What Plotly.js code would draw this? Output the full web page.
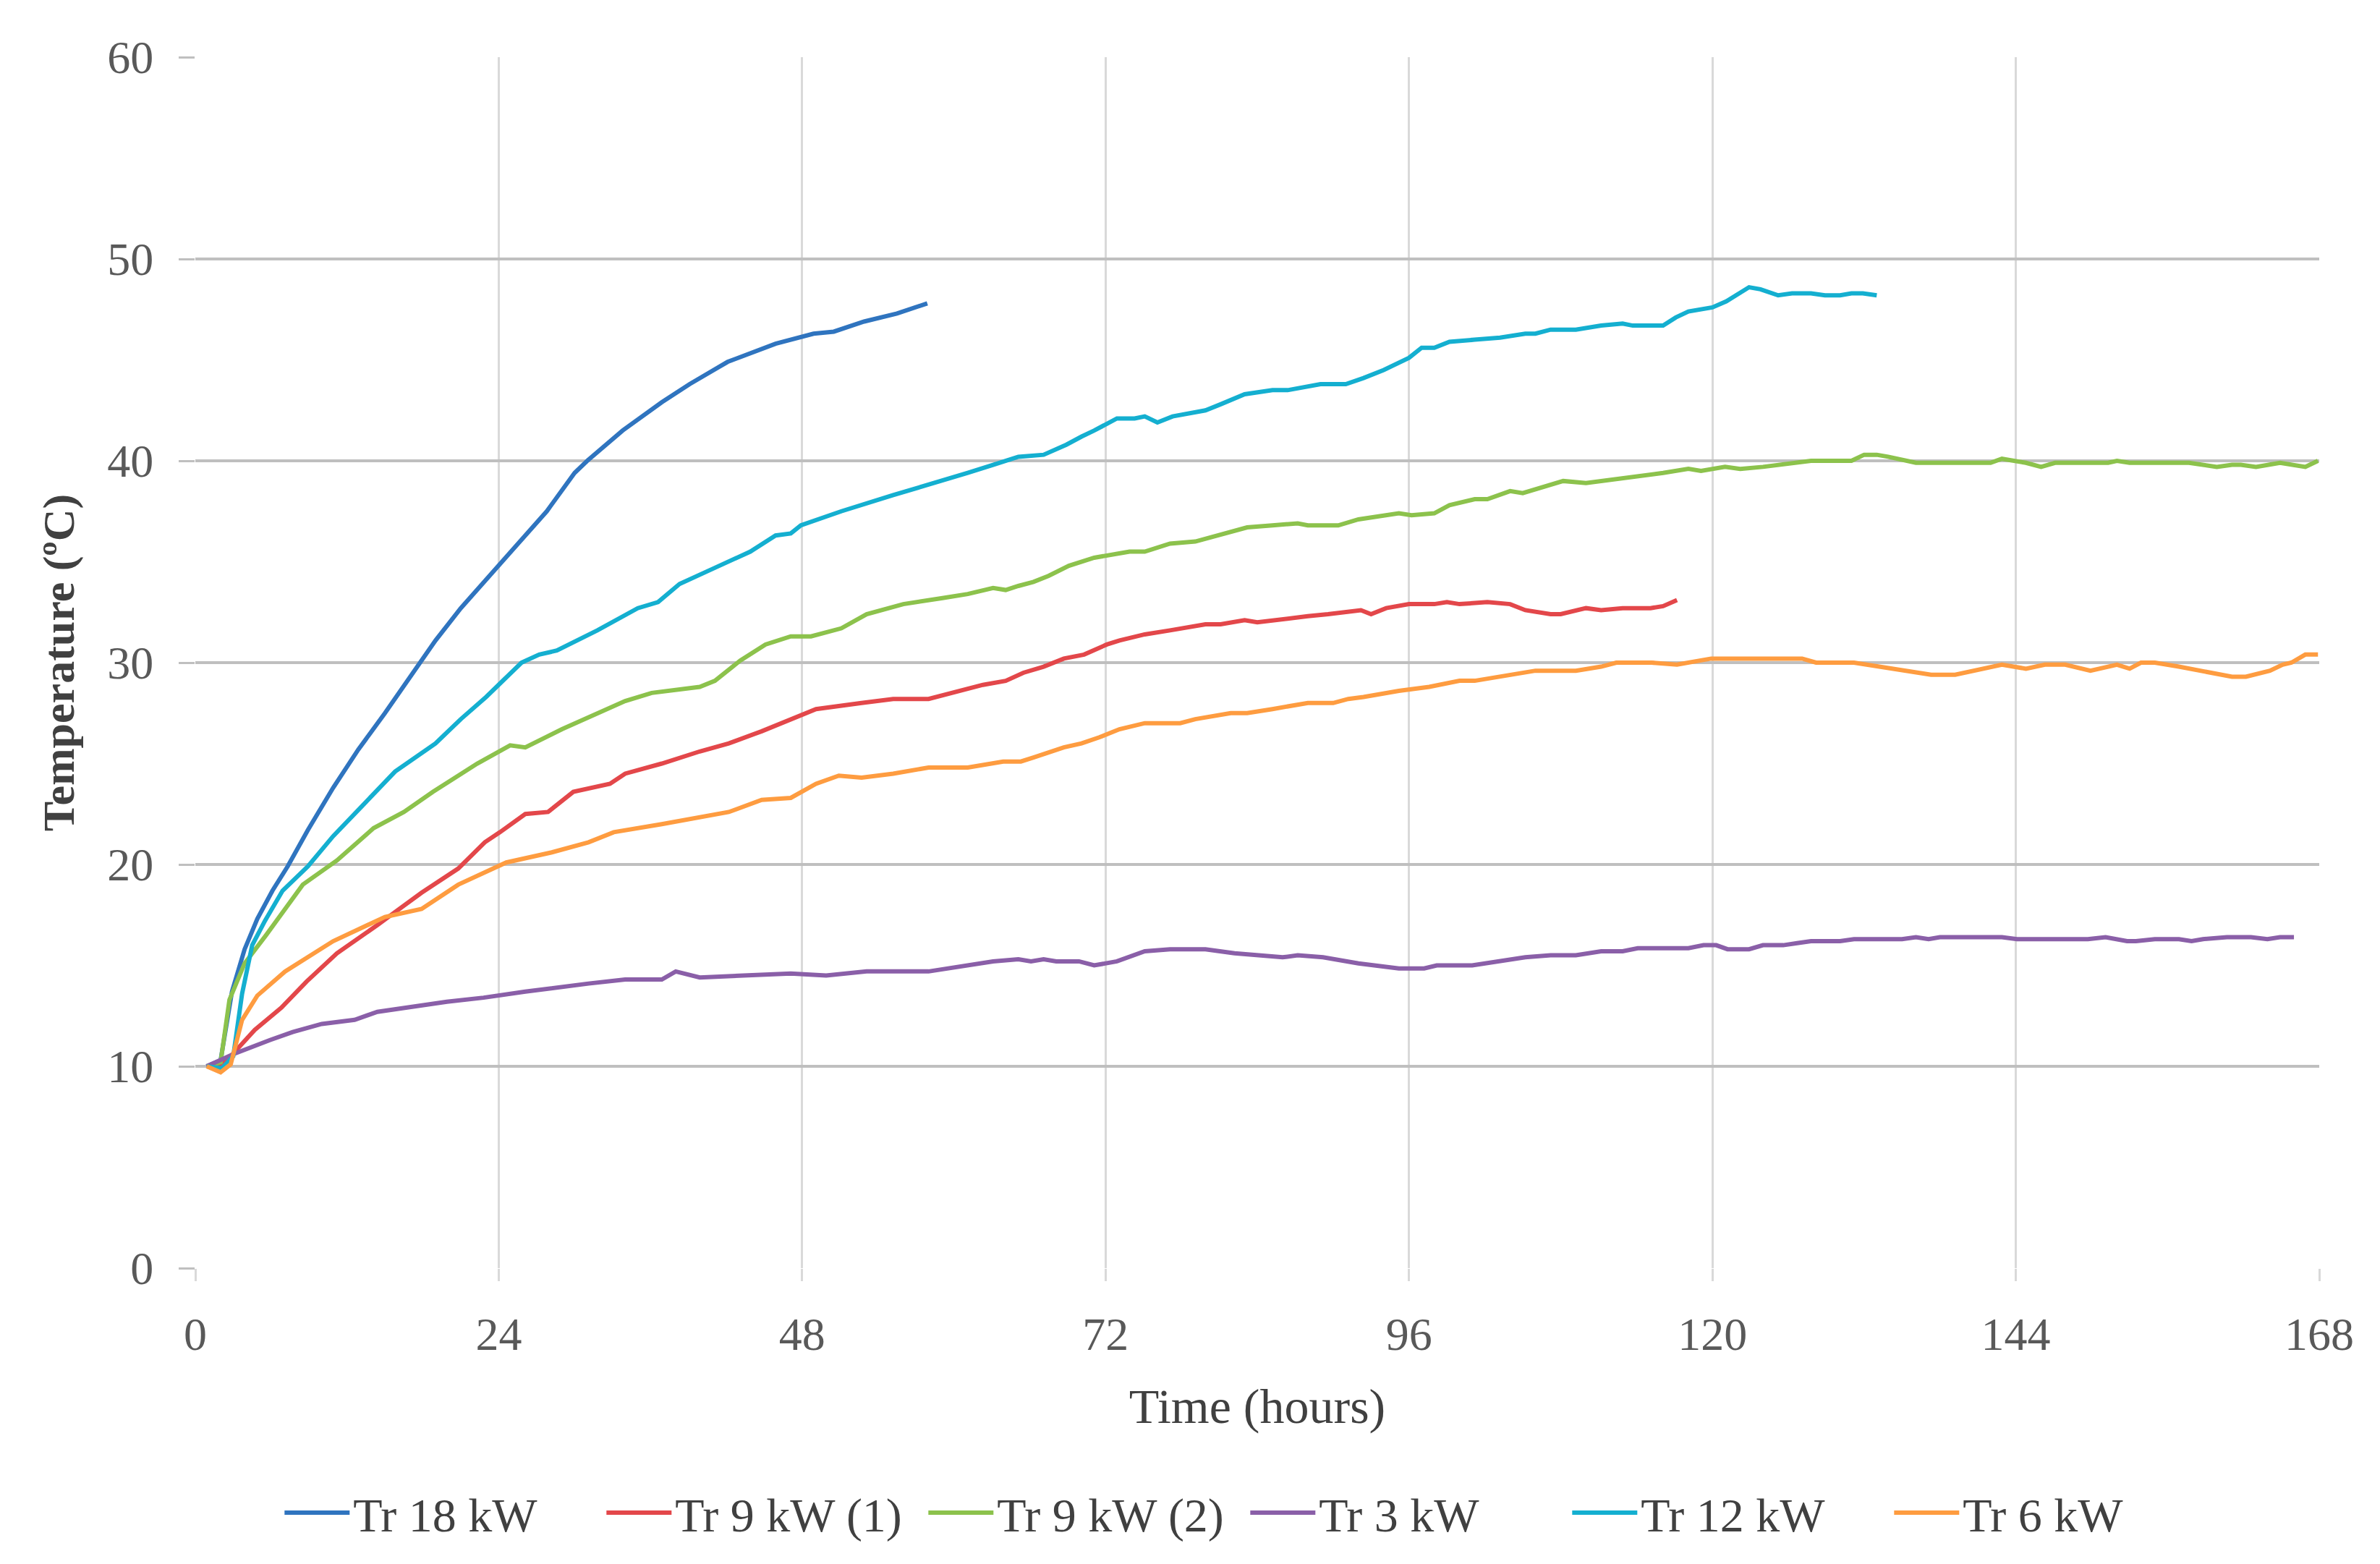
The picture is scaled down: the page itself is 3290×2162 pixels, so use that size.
<!DOCTYPE html>
<html>
<head>
<meta charset="utf-8">
<script src="https://cdn.plot.ly/plotly-3.0.1.min.js"></script>
<style>
  html, body { margin: 0; padding: 0; background: #fff; }
  #plot { width: 3290px; height: 2162px; }
</style>
</head>
<body>
<div id="plot"></div>
<script>
// series: time (h) and temperature (oC)
const seriesNames = ['Tr 18 kW', 'Tr 9 kW (1)', 'Tr 9 kW (2)', 'Tr 3 kW', 'Tr 12 kW', 'Tr 6 kW']

const tr18Hours = [0.9, 2.0, 2.9, 3.9, 4.9, 6.1, 7.3, 8.9, 10.9, 12.9, 15.0, 16.2, 17.8, 19.0, 21.0, 23.0, 25.0, 27.0, 27.8, 30.0,
  31.0, 33.8, 36.9, 39.1, 42.1, 45.9, 48.9, 50.5, 52.9, 55.5, 57.9]
const tr18Temp = [10.0, 10.3, 13.7, 15.8, 17.3, 18.7, 19.9, 21.7, 23.8, 25.7, 27.5, 28.6, 30.0, 31.1, 32.7, 34.1, 35.5, 36.9, 37.5, 39.4,
  40.0, 41.5, 42.9, 43.8, 44.9, 45.8, 46.3, 46.4, 46.9, 47.3, 47.8]

const tr9aHours = [0.9, 2.0, 2.8, 4.7, 6.8, 8.8, 11.2, 14.4, 17.9, 20.8, 22.9, 24.1, 26.1, 27.9, 29.9, 32.8, 34.0, 36.9, 39.9, 42.2,
  44.8, 47.1, 49.1, 52.7, 55.2, 58.0, 60.3, 62.3, 64.1, 65.5, 67.1, 68.7, 70.3, 72.1, 73.1, 75.1, 77.1, 79.9, 81.1, 83.0,
  84.0, 86.4, 88.0, 89.6, 91.2, 92.2, 93.0, 94.2, 96.0, 98.0, 99.0, 100.0, 102.2, 104.0, 105.2, 107.2, 108.0, 110.0, 111.2, 112.9,
  115.1, 116.1, 117.2]
const tr9aTemp = [10.0, 10.1, 10.5, 11.8, 12.9, 14.2, 15.6, 17.0, 18.6, 19.8, 21.1, 21.6, 22.5, 22.6, 23.6, 24.0, 24.5, 25.0, 25.6, 26.0,
  26.6, 27.2, 27.7, 28.0, 28.2, 28.2, 28.6, 28.9, 29.1, 29.5, 29.8, 30.2, 30.4, 30.9, 31.1, 31.4, 31.6, 31.9, 31.9, 32.1,
  32.0, 32.2, 32.3, 32.4, 32.5, 32.6, 32.4, 32.7, 32.9, 32.9, 33.0, 32.9, 33.0, 32.9, 32.6, 32.4, 32.4, 32.7, 32.6, 32.7,
  32.7, 32.8, 33.1]

const tr9bHours = [0.9, 2.0, 2.7, 3.9, 5.6, 8.5, 11.2, 14.1, 16.5, 18.8, 20.8, 22.3, 24.9, 26.1, 29.0, 31.1, 34.0, 36.1, 39.9, 41.1,
  43.1, 45.1, 47.1, 48.7, 51.1, 53.1, 56.0, 59.1, 61.1, 63.1, 64.1, 65.1, 66.3, 67.5, 69.1, 71.1, 73.9, 75.1, 77.1, 79.1,
  80.9, 83.2, 85.2, 87.2, 88.0, 90.4, 92.0, 95.2, 96.2, 98.0, 99.2, 101.2, 102.2, 104.0, 105.0, 107.2, 108.2, 110.0, 111.2, 112.9,
  116.1, 118.1, 119.1, 121.0, 122.2, 124.0, 126.3, 127.8, 131.0, 132.0, 133.0, 133.9, 136.1, 142.0, 142.9, 144.8, 146.0, 147.1, 151.3, 152.0,
  153.0, 157.7, 159.9, 161.1, 161.8, 163.0, 164.9, 166.9, 167.9]
const tr9bTemp = [10.0, 10.2, 13.3, 15.1, 16.5, 19.0, 20.2, 21.8, 22.6, 23.6, 24.4, 25.0, 25.9, 25.8, 26.7, 27.3, 28.1, 28.5, 28.8, 29.1,
  30.1, 30.9, 31.3, 31.3, 31.7, 32.4, 32.9, 33.2, 33.4, 33.7, 33.6, 33.8, 34.0, 34.3, 34.8, 35.2, 35.5, 35.5, 35.9, 36.0,
  36.3, 36.7, 36.8, 36.9, 36.8, 36.8, 37.1, 37.4, 37.3, 37.4, 37.8, 38.1, 38.1, 38.5, 38.4, 38.8, 39.0, 38.9, 39.0, 39.1,
  39.4, 39.6, 39.5, 39.7, 39.6, 39.7, 39.9, 40.0, 40.0, 40.3, 40.3, 40.2, 39.9, 39.9, 40.1, 39.9, 39.7, 39.9, 39.9, 40.0,
  39.9, 39.9, 39.7, 39.8, 39.8, 39.7, 39.9, 39.7, 40.0]

const tr3Hours = [0.9, 2.0, 3.0, 5.9, 7.7, 10.0, 12.6, 14.4, 19.9, 22.8, 26.1, 31.1, 34.0, 36.9, 38.0, 39.9, 43.1, 47.1, 49.9, 53.1,
  58.0, 61.1, 63.1, 65.1, 66.1, 67.1, 68.1, 69.9, 71.1, 72.9, 75.1, 77.1, 79.9, 82.2, 84.0, 86.0, 87.2, 89.2, 92.0, 93.2,
  95.2, 97.2, 98.2, 101.0, 103.2, 105.2, 107.2, 109.2, 111.2, 112.9, 114.1, 118.1, 119.3, 120.3, 121.2, 122.9, 124.0, 125.6, 126.7, 127.8,
  130.1, 131.2, 135.0, 136.1, 137.1, 138.0, 142.9, 144.1, 149.7, 151.1, 152.8, 153.5, 155.0, 156.9, 157.9, 158.8, 160.7, 162.6, 163.9, 164.9,
  166.0]
const tr3Temp = [10.0, 10.3, 10.6, 11.3, 11.7, 12.1, 12.3, 12.7, 13.2, 13.4, 13.7, 14.1, 14.3, 14.3, 14.7, 14.4, 14.5, 14.6, 14.5, 14.7,
  14.7, 15.0, 15.2, 15.3, 15.2, 15.3, 15.2, 15.2, 15.0, 15.2, 15.7, 15.8, 15.8, 15.6, 15.5, 15.4, 15.5, 15.4, 15.1, 15.0,
  14.85, 14.85, 15.0, 15.0, 15.2, 15.4, 15.5, 15.5, 15.7, 15.7, 15.85, 15.85, 16.0, 16.0, 15.8, 15.8, 16.0, 16.0, 16.1, 16.2,
  16.2, 16.3, 16.3, 16.4, 16.3, 16.4, 16.4, 16.3, 16.3, 16.4, 16.2, 16.2, 16.3, 16.3, 16.2, 16.3, 16.4, 16.4, 16.3, 16.4,
  16.4]

const tr12Hours = [0.9, 2.1, 3.0, 3.7, 4.5, 5.5, 6.9, 8.9, 10.9, 12.9, 15.8, 19.0, 21.0, 23.0, 25.8, 27.2, 28.6, 31.8, 35.0, 36.6,
  38.3, 41.1, 43.9, 45.9, 47.1, 47.9, 51.1, 55.2, 59.1, 61.1, 63.1, 65.1, 67.1, 68.9, 70.1, 71.1, 72.9, 74.3, 75.1, 76.1,
  77.3, 79.9, 81.1, 83.0, 85.2, 86.4, 89.0, 91.0, 92.4, 94.0, 96.0, 97.0, 98.0, 99.2, 101.2, 103.2, 105.2, 106.0, 107.2, 109.2,
  111.2, 112.9, 113.7, 116.1, 117.1, 118.1, 120.0, 121.1, 122.9, 123.8, 125.2, 126.3, 127.8, 128.9, 130.1, 131.0, 131.9, 133.0]
const tr12Temp = [10.0, 9.9, 10.5, 13.6, 16.0, 17.2, 18.7, 19.9, 21.4, 22.7, 24.6, 26.0, 27.2, 28.3, 30.0, 30.4, 30.6, 31.6, 32.7, 33.0,
  33.9, 34.7, 35.5, 36.3, 36.4, 36.8, 37.5, 38.3, 39.0, 39.4, 39.8, 40.2, 40.3, 40.8, 41.2, 41.5, 42.1, 42.1, 42.2, 41.9,
  42.2, 42.5, 42.8, 43.3, 43.5, 43.5, 43.8, 43.8, 44.1, 44.5, 45.1, 45.6, 45.6, 45.9, 46.0, 46.1, 46.3, 46.3, 46.5, 46.5,
  46.7, 46.8, 46.7, 46.7, 47.1, 47.4, 47.6, 47.9, 48.6, 48.5, 48.2, 48.3, 48.3, 48.2, 48.2, 48.3, 48.3, 48.2]

const tr6Hours = [0.9, 2.0, 2.8, 3.7, 4.9, 7.1, 10.9, 15.0, 17.9, 20.8, 24.6, 28.2, 31.1, 33.1, 36.9, 42.2, 44.8, 47.1, 49.1, 50.9,
  52.7, 55.2, 58.0, 61.1, 63.9, 65.3, 66.3, 68.7, 70.1, 71.5, 73.1, 75.1, 77.9, 79.1, 81.9, 83.2, 85.2, 88.0, 90.0, 91.2,
  92.4, 95.2, 97.6, 100.0, 101.2, 103.2, 106.0, 109.2, 111.2, 112.4, 115.2, 117.2, 119.9, 127.1, 128.2, 131.2, 133.1, 137.3, 139.2, 142.9,
  144.8, 146.3, 147.9, 149.9, 152.0, 153.0, 153.9, 155.0, 156.9, 159.6, 161.1, 162.2, 164.1, 165.1, 165.8, 166.9, 167.9]
const tr6Temp = [10.0, 9.7, 10.1, 12.3, 13.5, 14.7, 16.2, 17.4, 17.8, 19.0, 20.1, 20.6, 21.1, 21.6, 22.0, 22.6, 23.2, 23.3, 24.0, 24.4,
  24.3, 24.5, 24.8, 24.8, 25.1, 25.1, 25.3, 25.8, 26.0, 26.3, 26.7, 27.0, 27.0, 27.2, 27.5, 27.5, 27.7, 28.0, 28.0, 28.2,
  28.3, 28.6, 28.8, 29.1, 29.1, 29.3, 29.6, 29.6, 29.8, 30.0, 30.0, 29.9, 30.2, 30.2, 30.0, 30.0, 29.8, 29.4, 29.4, 29.9,
  29.7, 29.9, 29.9, 29.6, 29.9, 29.7, 30.0, 30.0, 29.8, 29.5, 29.3, 29.3, 29.6, 29.9, 30.0, 30.4, 30.4]

const xTicks = [0, 24, 48, 72, 96, 120, 144, 168]
const yTicks = [0, 10, 20, 30, 40, 50, 60]

const hours = [tr18Hours, tr9aHours, tr9bHours, tr3Hours, tr12Hours, tr6Hours]
const temps = [tr18Temp, tr9aTemp, tr9bTemp, tr3Temp, tr12Temp, tr6Temp]
const colors = ['#2f74bf', '#e3474a', '#8cc24c', '#8a5fa8', '#14afd0', '#fe9c40']

var data = []
for (var i = 0; i < seriesNames.length; i++)
{
    data.push({
        x: hours[i],
        y: temps[i],
        name: seriesNames[i],
        type: 'scatter',
        mode: 'lines',
        line: {color: colors[i], width: 6}
    })
}

const fontFamily = '"Liberation Serif", "DejaVu Serif", serif'

const layout = {
    width: 3290,
    height: 2162,
    paper_bgcolor: '#ffffff',
    plot_bgcolor: '#ffffff',
    margin: {l: 270, r: 84, t: 79, b: 409},
    font: {family: fontFamily, size: 64, color: '#595959'},
    showlegend: true,
    legend: {
        orientation: 'h',
        x: 0.495,
        xanchor: 'center',
        y: -0.202,
        yanchor: 'middle',
        font: {family: fontFamily, size: 66, color: '#404040'},
        itemwidth: 90,
        entrywidth: 340,
        entrywidthmode: 'pixels',
        tracegroupgap: 0
    },
    xaxis: {
        range: [0, 168],
        tickvals: xTicks,
        ticktext: xTicks.map(String),
        showgrid: true,
        gridcolor: '#d9d9d9',
        gridwidth: 3,
        zeroline: false,
        showline: false,
        ticks: 'outside',
        ticklen: 17,
        tickwidth: 3,
        tickcolor: '#d9d9d9',
        ticklabelstandoff: 18,
        tickfont: {family: fontFamily, size: 64, color: '#595959'},
        title: {text: 'Time (hours)', font: {family: fontFamily, size: 68, color: '#404040'}, standoff: 40}
    },
    yaxis: {
        range: [0, 60],
        tickvals: yTicks,
        ticktext: yTicks.map(String),
        showgrid: true,
        gridcolor: '#bfbfbf',
        gridwidth: 4,
        zeroline: false,
        showline: false,
        ticks: 'outside',
        ticklen: 22,
        tickwidth: 3,
        tickcolor: '#bfbfbf',
        ticklabelstandoff: 22,
        tickfont: {family: fontFamily, size: 64, color: '#595959'},
        title: {text: '<b>Temperature (ºC)</b>', font: {family: fontFamily, size: 62, color: '#404040'}, standoff: 25}
    }
}

Plotly.newPlot('plot', data, layout, {staticPlot: true})
</script>
</body>
</html>
